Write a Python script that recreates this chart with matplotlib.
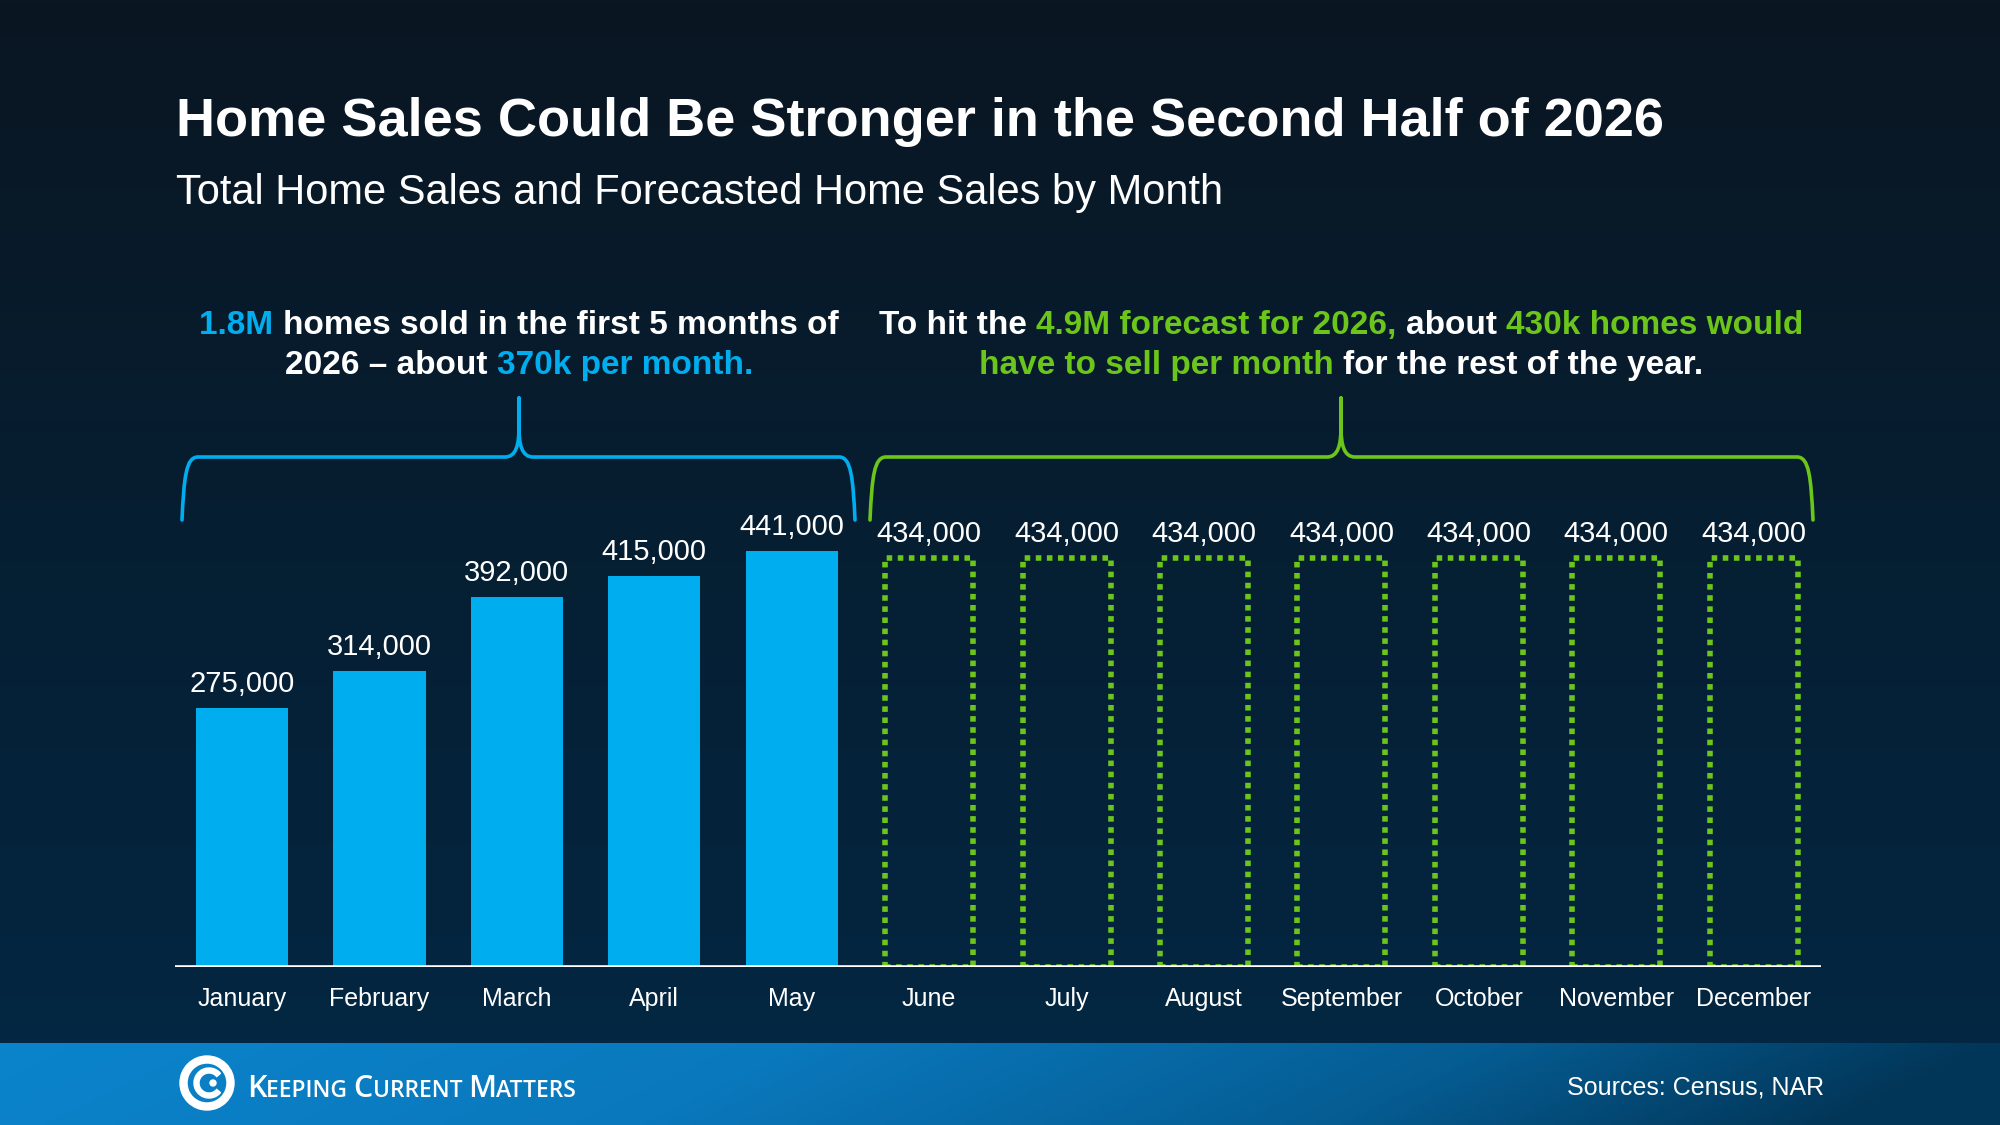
"""
Home sales by month, 2026: actual Jan-May vs forecast Jun-Dec
"""

import matplotlib
matplotlib.use('Agg')
import matplotlib.pyplot as plt
import numpy as np
from matplotlib.path import Path
from matplotlib.patches import PathPatch, Wedge, Circle
from matplotlib.colors import LinearSegmentedColormap
from matplotlib.transforms import blended_transform_factory

# data
actual_months = ['January', 'February', 'March', 'April', 'May']
actual_sales = [275000, 314000, 392000, 415000, 441000]
forecast_months = ['June', 'July', 'August', 'September', 'October', 'November', 'December']
forecast_sales = [434000, 434000, 434000, 434000, 434000, 434000, 434000]

title = 'Home Sales Could Be Stronger in the Second Half of 2026'
subtitle = 'Total Home Sales and Forecasted Home Sales by Month'
source = 'Sources: Census, NAR'

BLUE = '#00aeef'
GREEN = '#6cc51a'
WHITE = '#ffffff'
FONT = 'Liberation Sans'

fig = plt.figure(figsize=(20, 11.25), dpi=100)

# background layer in pixel coords (y down)
bg = fig.add_axes([0, 0, 1, 1], zorder=0)
grad = np.linspace(0, 1, 256).reshape(-1, 1)
bg_cmap = LinearSegmentedColormap.from_list('bg', ['#0a1622', '#061f33', '#032845'])
bg.imshow(grad, extent=[0, 2000, 1125, 0], cmap=bg_cmap, aspect='auto')

# footer band, diagonal gradient
fx = np.linspace(0, 1, 400)
fy = np.linspace(0, 1, 20)
FX, FY = np.meshgrid(fx, fy)
foot_cmap = LinearSegmentedColormap.from_list(
    'foot', [(0, '#0a84cc'), (0.4, '#0a78bc'), (0.75, '#055c92'), (1.0, '#023658')])
bg.imshow(np.clip(FX + 0.08 * FY, 0, 1), extent=[0, 2000, 1125, 1043],
          cmap=foot_cmap, aspect='auto', vmin=0, vmax=1)
bg.set_xlim(0, 2000)
bg.set_ylim(1125, 0)
bg.axis('off')

renderer = fig.canvas.get_renderer()


def text_width(s, size, family, weight):
    a = bg.text(0, 0, '|' + s + '|', fontsize=size, family=family, weight=weight)
    b = bg.text(0, 0, '||', fontsize=size, family=family, weight=weight)
    w = a.get_window_extent(renderer).width - b.get_window_extent(renderer).width
    a.remove()
    b.remove()
    return w


def rich_line(x, y, pieces, family=FONT, weight='bold', align='center'):
    # pieces: (text, color, size)
    widths = [text_width(s, sz, family, weight) for s, c, sz in pieces]
    total = sum(widths)
    cur = x - total / 2 if align == 'center' else x
    for (s, c, sz), w in zip(pieces, widths):
        bg.text(cur, y, s, color=c, fontsize=sz, family=family, weight=weight,
                ha='left', va='baseline')
        cur += w


def brace(x0, x1, xm, y_h, y_tip, y_peak, color):
    verts = [
        (x0, y_tip),
        (x0 + 2, y_h + 20), (x0 + 4, y_h), (x0 + 16, y_h),
        (xm - 14, y_h),
        (xm - 3, y_h), (xm, y_h - 12), (xm, y_h - 30),
        (xm, y_peak),
        (xm, y_h - 30),
        (xm, y_h - 12), (xm + 3, y_h), (xm + 14, y_h),
        (x1 - 16, y_h),
        (x1 - 4, y_h), (x1 - 2, y_h + 20), (x1, y_tip),
    ]
    codes = [Path.MOVETO,
             Path.CURVE4, Path.CURVE4, Path.CURVE4,
             Path.LINETO,
             Path.CURVE4, Path.CURVE4, Path.CURVE4,
             Path.LINETO,
             Path.LINETO,
             Path.CURVE4, Path.CURVE4, Path.CURVE4,
             Path.LINETO,
             Path.CURVE4, Path.CURVE4, Path.CURVE4]
    bg.add_patch(PathPatch(Path(verts, codes), facecolor='none', edgecolor=color,
                           lw=2.6, capstyle='round', joinstyle='round'))


# titles
bg.text(176, 136, title, color=WHITE, fontsize=39, family=FONT, weight='bold',
        ha='left', va='baseline')
bg.text(176, 204, subtitle, color=WHITE, fontsize=30, family=FONT,
        ha='left', va='baseline')

# annotations
rich_line(519, 334, [('1.8M ', BLUE, 24), ('homes sold in the first 5 months of', WHITE, 24)])
rich_line(519, 374, [('2026 – about ', WHITE, 24), ('370k per month.', BLUE, 24)])
rich_line(1341, 334, [('To hit the ', WHITE, 24), ('4.9M forecast for 2026, ', GREEN, 24),
                      ('about ', WHITE, 24), ('430k homes would', GREEN, 24)])
rich_line(1341, 374, [('have to sell per month ', GREEN, 24),
                      ('for the rest of the year.', WHITE, 24)])

brace(182, 855, 519, 457, 520, 398, BLUE)
brace(870, 1813, 1341, 457, 520, 398, GREEN)

# footer: logo + source
bg.add_patch(Wedge((207, 1083), 27, 0, 360, width=7, color=WHITE))
bg.add_patch(Wedge((209, 1083), 15, 40, 320, width=5, color=WHITE))
bg.add_patch(Circle((213, 1083), 3, color=WHITE))
rich_line(247, 1097, [('K', WHITE, 22), ('EEPING ', WHITE, 16.5), ('C', WHITE, 22),
                      ('URRENT ', WHITE, 16.5), ('M', WHITE, 22), ('ATTERS', WHITE, 16.5)],
          family='Open Sans', weight='semibold', align='left')
bg.text(1824, 1095, source, color=WHITE, fontsize=18, family=FONT,
        ha='right', va='baseline')

# chart
ax = fig.add_axes([0.0875, 0.14044, 0.823, 0.4191], zorder=1)
ax.patch.set_alpha(0)
n_act = len(actual_months)
x_act = np.arange(n_act)
x_fc = np.arange(n_act, n_act + len(forecast_months))

ax.bar(x_act, actual_sales, width=0.67, color=BLUE, zorder=2)
ax.bar(x_fc, forecast_sales, width=0.64, fill=False, edgecolor=GREEN,
       linestyle=(0, (1, 1)), linewidth=4, zorder=2)
ax.axhline(0, color=WHITE, lw=2.6, zorder=3)

for x, v in zip(list(x_act) + list(x_fc), actual_sales + forecast_sales):
    ax.annotate(f'{v:,}', (x, v), xytext=(0, 11.5), textcoords='offset points',
                ha='center', va='baseline', color=WHITE, fontsize=21, family=FONT)

trans = blended_transform_factory(ax.transData, bg.transData)
for x, m in zip(list(x_act) + list(x_fc), actual_months + forecast_months):
    ax.text(x, 1006, m, transform=trans, ha='center', va='baseline',
            color=WHITE, fontsize=18, family=FONT)

ax.set_xlim(-0.488, 11.49)
ax.set_ylim(0, 500000)
ax.axis('off')

fig.savefig('out.png', dpi=100)
